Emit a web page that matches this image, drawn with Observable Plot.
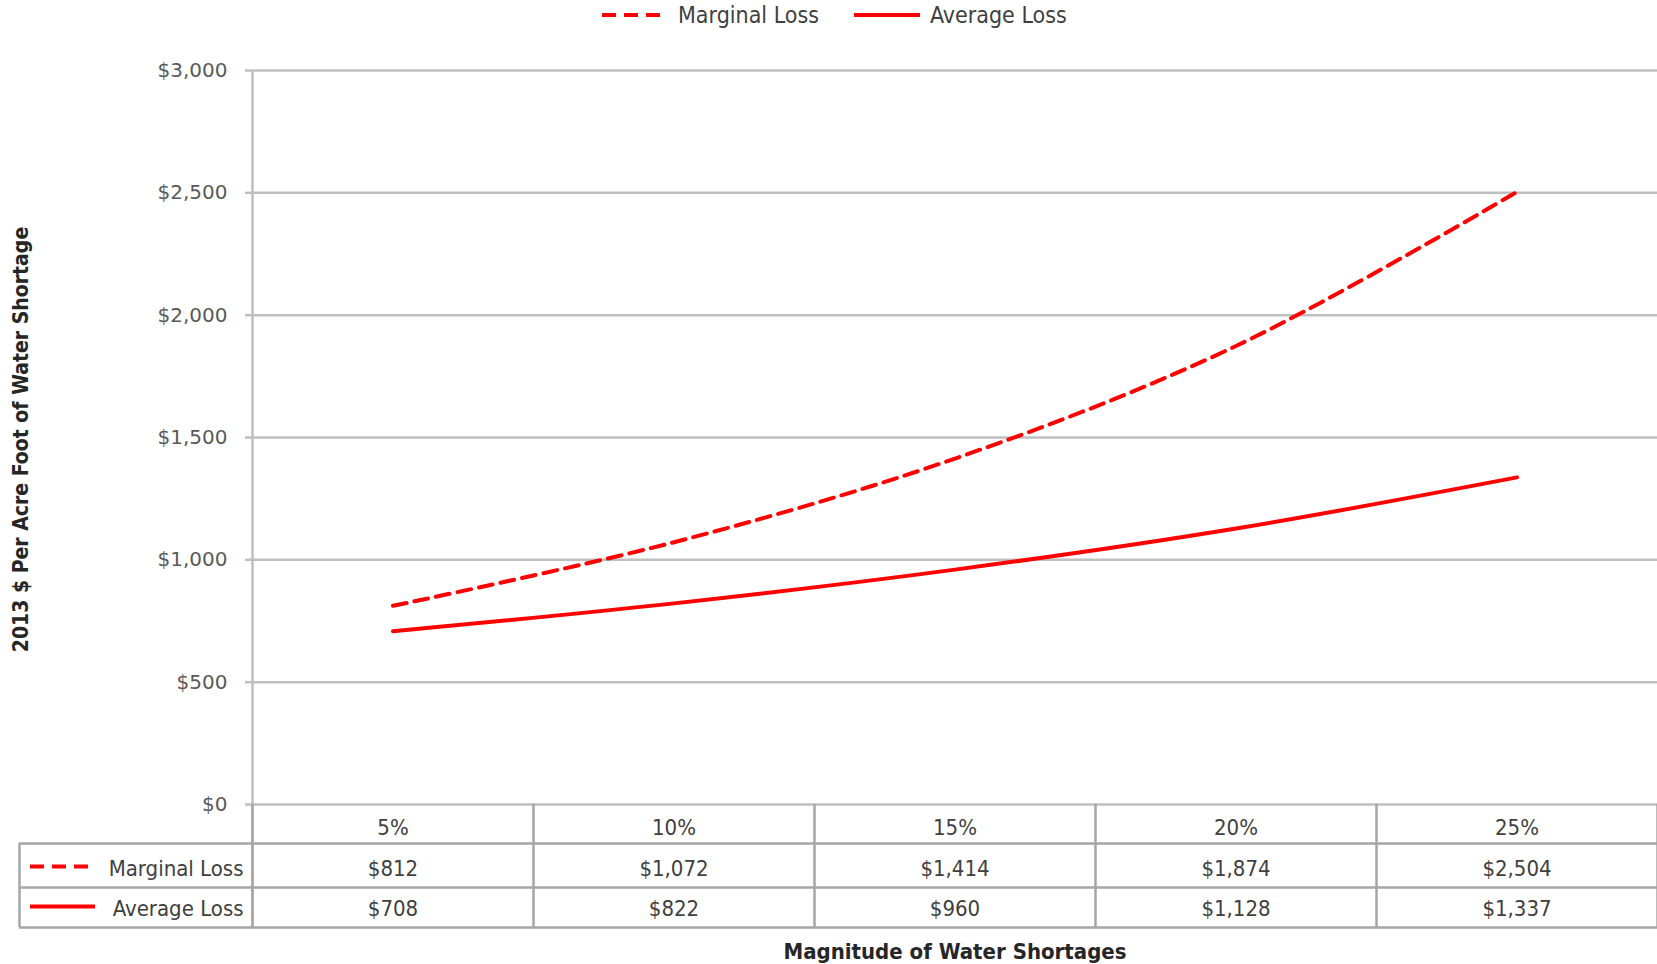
<!DOCTYPE html>
<html><head><meta charset="utf-8">
<script src="https://cdn.jsdelivr.net/npm/d3@7"></script>
<script src="https://cdn.jsdelivr.net/npm/@observablehq/plot@0.6"></script>
<style>
body{margin:0;background:#fff;}
#wrap{position:relative;width:1657px;height:964px;}
#legend{position:absolute;top:0;left:0;width:1657px;height:30px;font-family:"Liberation Sans Narrow","DejaVu Sans Condensed",sans-serif;font-size:23px;color:#404040;}
.item{position:absolute;top:2px;display:flex;align-items:center;white-space:nowrap;}
.item svg{margin-right:10px;}
</style></head><body>
<div id="wrap"><div id="chart"></div><div id="legend"></div></div>
<script>
const categories = ["5%", "10%", "15%", "20%", "25%"];
const marginalLoss = [812, 1072, 1414, 1874, 2504];
const averageLoss = [708, 822, 960, 1128, 1337];
const yTicks = [0, 500, 1000, 1500, 2000, 2500, 3000];
const seriesNames = ["Marginal Loss", "Average Loss"];
const seriesValues = [marginalLoss, averageLoss];
const yTitle = "2013 $ Per Acre Foot of Water Shortage";
const xTitle = "Magnitude of Water Shortages";

const RED = "#ff0000";
const GRID = "#bfbfbf";
const TABLE = "#a6a6a6";
const DASH = "14,8";
const tableFont = "'Liberation Sans Narrow','DejaVu Sans Condensed',sans-serif";
const money = d => "$" + d3.format(",")(d);

const rows = seriesNames.flatMap((s, k) => categories.map((c, i) => ({series: s, i, cat: c, value: seriesValues[k][i]})));
const bounds = d3.range(categories.length + 1).map(i => i - 0.5);
const rowDy = [71, 111];

const marks = [
  Plot.ruleY(yTicks, {stroke: GRID, strokeWidth: 2.5}),
  Plot.axisY(yTicks, {tickSize: 7, tickPadding: 18, tickFormat: money, stroke: GRID, strokeWidth: 2.5, fill: "#595959", fontSize: 20, fontFamily: "DejaVu Sans", label: null}),
  Plot.ruleX([bounds[0]], {stroke: GRID, strokeWidth: 2.5, insetBottom: -123}),
  // table grid
  Plot.ruleX(bounds.slice(1), {stroke: TABLE, strokeWidth: 2.5, insetTop: 734, insetBottom: -123}),
  Plot.ruleX([bounds[0]], {stroke: TABLE, strokeWidth: 2.5, insetTop: 734, insetBottom: -123}),
  Plot.ruleX([bounds[0]], {stroke: TABLE, strokeWidth: 2.5, dx: -233, insetTop: 773, insetBottom: -123}),
  Plot.ruleY([0], {stroke: TABLE, strokeWidth: 2.5, dy: 39, insetLeft: -233}),
  Plot.ruleY([0], {stroke: TABLE, strokeWidth: 2.5, dy: 83, insetLeft: -233}),
  Plot.ruleY([0], {stroke: TABLE, strokeWidth: 2.5, dy: 123, insetLeft: -233}),
  // header row
  Plot.text(categories, {x: (d, i) => i, text: d => d, frameAnchor: "bottom", dy: 30, fontSize: 22, fontFamily: tableFont, fill: "#404040"})
];
seriesNames.forEach((s, k) => {
  const data = rows.filter(d => d.series === s);
  marks.push(Plot.line(data, {x: "i", y: "value", stroke: RED, strokeWidth: 4, curve: "catmull-rom", strokeDasharray: k === 0 ? DASH : null}));
  marks.push(Plot.text(data, {x: "i", text: d => money(d.value), frameAnchor: "bottom", dy: rowDy[k], fontSize: 22, fontFamily: tableFont, fill: "#404040"}));
  marks.push(Plot.text([s], {x: bounds[0], text: d => d, frameAnchor: "bottom", dy: rowDy[k], dx: -9, textAnchor: "end", fontSize: 22, fontFamily: tableFont, fill: "#404040"}));
  marks.push(Plot.ruleY([0], {stroke: RED, strokeWidth: 4, dy: rowDy[k] - 9, insetLeft: -222, insetRight: 1562, strokeDasharray: k === 0 ? DASH : null}));
});
marks.push(Plot.text([yTitle], {frameAnchor: "left", textAnchor: "middle", rotate: -90, dx: -231, dy: 2, fontSize: 21, fontWeight: "bold", fontFamily: tableFont, fill: "#262626"}));
marks.push(Plot.text([xTitle], {frameAnchor: "bottom", dy: 154, fontSize: 22, fontWeight: "bold", fontFamily: tableFont, fill: "#262626"}));

const chart = Plot.plot({
  width: 1657,
  height: 964,
  marginTop: 70,
  marginBottom: 160,
  marginLeft: 252,
  marginRight: 0,
  x: {domain: [bounds[0], bounds[bounds.length - 1]], axis: null},
  y: {domain: [0, 3000], axis: null},
  style: {background: "white", overflow: "visible"},
  marks
});
document.getElementById("chart").appendChild(chart);

// legend
const legend = document.getElementById("legend");
const lpos = [602, 854];
seriesNames.forEach((s, k) => {
  const div = document.createElement("div");
  div.className = "item";
  div.style.left = lpos[k] + "px";
  div.innerHTML = `<svg width="66" height="10"><line x1="0" x2="66" y1="5" y2="5" stroke="${RED}" stroke-width="4" ${k === 0 ? `stroke-dasharray="${DASH}"` : ""}/></svg><span>${s}</span>`;
  legend.appendChild(div);
});
</script>
</body></html>
